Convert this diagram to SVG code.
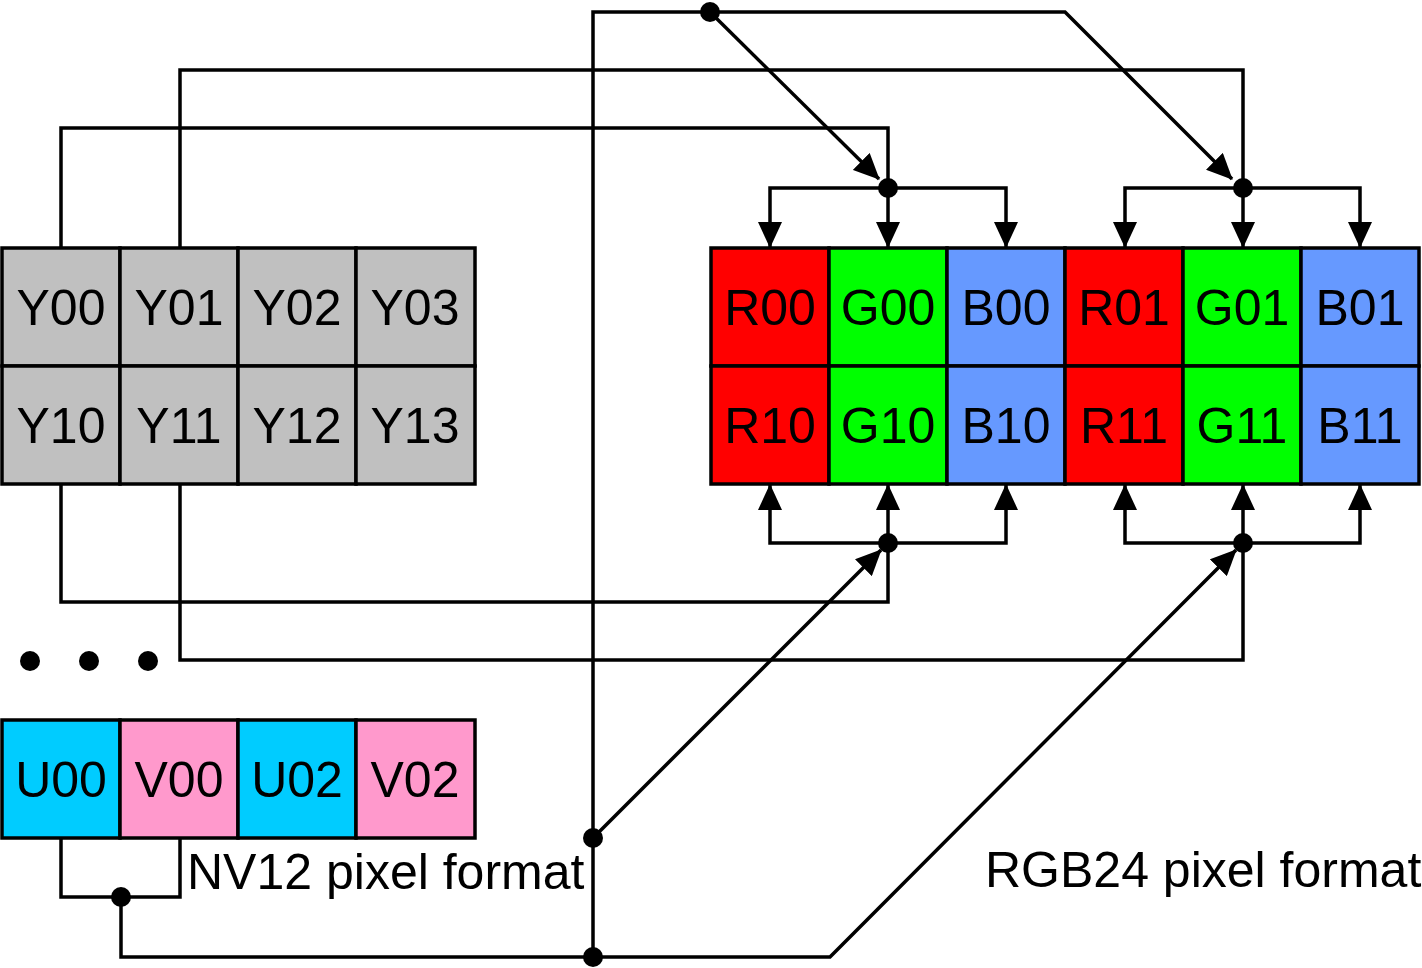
<svg xmlns="http://www.w3.org/2000/svg" width="1422" height="968" viewBox="0 0 1422 968">
<style>
.c{stroke:#000;stroke-width:3.5}
.t{font-family:"Liberation Sans",Arial,sans-serif;font-size:50px;fill:#000;text-anchor:middle}
.l{font-family:"Liberation Sans",Arial,sans-serif;font-size:50px;fill:#000}
.w{fill:none;stroke:#000;stroke-width:3.5}
.gy{fill:#C0C0C0}.r{fill:#FF0000}.g{fill:#00FF00}.b{fill:#6699FF}.u{fill:#00CCFF}.v{fill:#FF99CC}
</style>
<defs>
<marker id="a" viewBox="0 0 26 24" refX="25" refY="12" markerWidth="26" markerHeight="24" markerUnits="userSpaceOnUse" orient="auto-start-reverse">
<path d="M0,0 L26,12 L0,24 z" fill="#000"/>
</marker>
</defs>
<rect width="1422" height="968" fill="#fff"/>
<g id="y-grid">
<rect class="c gy" x="2" y="248" width="118" height="118"/><text class="t" x="61" y="325">Y00</text>
<rect class="c gy" x="120" y="248" width="118" height="118"/><text class="t" x="179" y="325">Y01</text>
<rect class="c gy" x="238" y="248" width="118" height="118"/><text class="t" x="297" y="325">Y02</text>
<rect class="c gy" x="356" y="248" width="119" height="118"/><text class="t" x="415" y="325">Y03</text>
<rect class="c gy" x="2" y="366" width="118" height="118"/><text class="t" x="61" y="443">Y10</text>
<rect class="c gy" x="120" y="366" width="118" height="118"/><text class="t" x="179" y="443">Y11</text>
<rect class="c gy" x="238" y="366" width="118" height="118"/><text class="t" x="297" y="443">Y12</text>
<rect class="c gy" x="356" y="366" width="119" height="118"/><text class="t" x="415" y="443">Y13</text>
</g>
<g id="uv-row">
<rect class="c u" x="2" y="720" width="118" height="118"/><text class="t" x="61" y="797">U00</text>
<rect class="c v" x="120" y="720" width="118" height="118"/><text class="t" x="179" y="797">V00</text>
<rect class="c u" x="238" y="720" width="118" height="118"/><text class="t" x="297" y="797">U02</text>
<rect class="c v" x="356" y="720" width="119" height="118"/><text class="t" x="415" y="797">V02</text>
</g>
<g id="rgb-grid">
<rect class="c r" x="711" y="248" width="118" height="118"/><text class="t" x="770" y="325">R00</text>
<rect class="c g" x="829" y="248" width="118" height="118"/><text class="t" x="888" y="325">G00</text>
<rect class="c b" x="947" y="248" width="118" height="118"/><text class="t" x="1006" y="325">B00</text>
<rect class="c r" x="1065" y="248" width="118" height="118"/><text class="t" x="1124" y="325">R01</text>
<rect class="c g" x="1183" y="248" width="118" height="118"/><text class="t" x="1242" y="325">G01</text>
<rect class="c b" x="1301" y="248" width="118" height="118"/><text class="t" x="1360" y="325">B01</text>
<rect class="c r" x="711" y="366" width="118" height="118"/><text class="t" x="770" y="443">R10</text>
<rect class="c g" x="829" y="366" width="118" height="118"/><text class="t" x="888" y="443">G10</text>
<rect class="c b" x="947" y="366" width="118" height="118"/><text class="t" x="1006" y="443">B10</text>
<rect class="c r" x="1065" y="366" width="118" height="118"/><text class="t" x="1124" y="443">R11</text>
<rect class="c g" x="1183" y="366" width="118" height="118"/><text class="t" x="1242" y="443">G11</text>
<rect class="c b" x="1301" y="366" width="118" height="118"/><text class="t" x="1360" y="443">B11</text>
</g>
<g id="labels">
<text class="l" x="187" y="889">NV12 pixel format</text>
<text class="l" x="985" y="887">RGB24 pixel format</text>
</g>
<g id="ellipsis">
<circle cx="30" cy="661" r="10"/><circle cx="89" cy="661" r="10"/><circle cx="148" cy="661" r="10"/>
</g>
<g id="connectors">
<polyline class="w" points="593,957 593,12 1065,12 1232,179" marker-end="url(#a)"/>
<line class="w" x1="710" y1="12" x2="879" y2="179" marker-end="url(#a)"/>
<polyline class="w" points="61,248 61,128 888,128 888,188"/>
<polyline class="w" points="180,248 180,70 1243,70 1243,188"/>
<polyline class="w" points="61,484 61,602 888,602 888,543"/>
<polyline class="w" points="180,484 180,660 1243,660 1243,543"/>
<polyline class="w" points="770,247 770,188 1006,188 1006,247" marker-start="url(#a)" marker-end="url(#a)"/>
<line class="w" x1="888" y1="188" x2="888" y2="247" marker-end="url(#a)"/>
<polyline class="w" points="1125,247 1125,188 1360,188 1360,247" marker-start="url(#a)" marker-end="url(#a)"/>
<line class="w" x1="1243" y1="188" x2="1243" y2="247" marker-end="url(#a)"/>
<polyline class="w" points="770,485 770,543 1006,543 1006,485" marker-start="url(#a)" marker-end="url(#a)"/>
<line class="w" x1="888" y1="543" x2="888" y2="485" marker-end="url(#a)"/>
<polyline class="w" points="1125,485 1125,543 1360,543 1360,485" marker-start="url(#a)" marker-end="url(#a)"/>
<line class="w" x1="1243" y1="543" x2="1243" y2="485" marker-end="url(#a)"/>
<line class="w" x1="593" y1="838" x2="881" y2="550" marker-end="url(#a)"/>
<polyline class="w" points="121,897 121,957 830,957 1236,550" marker-end="url(#a)"/>
<polyline class="w" points="61,838 61,897 180,897 180,838"/>
<circle cx="710" cy="12" r="10"/>
<circle cx="888" cy="188" r="10"/>
<circle cx="1243" cy="188" r="10"/>
<circle cx="888" cy="543" r="10"/>
<circle cx="1243" cy="543" r="10"/>
<circle cx="593" cy="838" r="10"/>
<circle cx="593" cy="957" r="10"/>
<circle cx="121" cy="897" r="10"/>
</g>
</svg>
